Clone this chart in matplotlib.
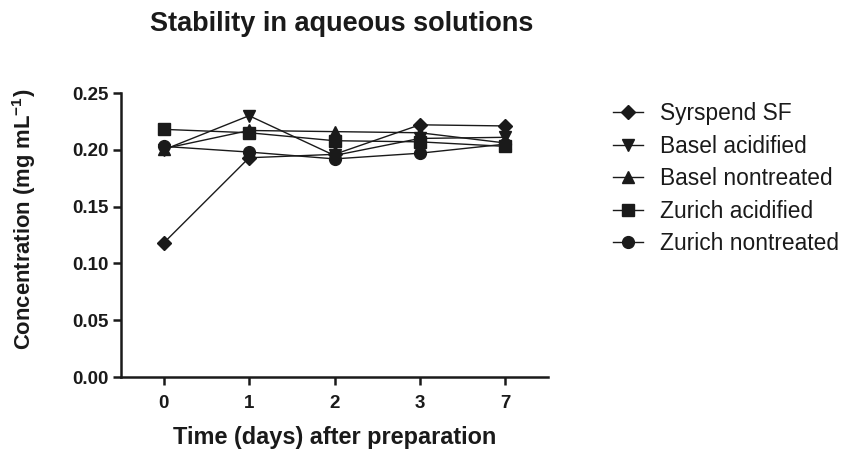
import matplotlib
matplotlib.use("Agg")
import matplotlib.pyplot as plt
import numpy as np

plt.rcParams['font.family'] = ['Liberation Sans', 'DejaVu Sans']
plt.rcParams['mathtext.fontset'] = 'custom'
plt.rcParams['mathtext.rm'] = 'Liberation Sans'
plt.rcParams['mathtext.bf'] = 'Liberation Sans:bold'

days = ["0", "1", "2", "3", "7"]
syrspend = [0.118, 0.193, 0.196, 0.222, 0.221]
basel_acid = [0.200, 0.230, 0.195, 0.210, 0.211]
basel_non = [0.201, 0.217, 0.216, 0.215, 0.206]
zurich_acid = [0.218, 0.215, 0.208, 0.207, 0.203]
zurich_non = [0.203, 0.198, 0.192, 0.197, 0.205]

series = [
    ("Syrspend SF", syrspend, "D", 7),
    ("Basel acidified", basel_acid, "v", 8.5),
    ("Basel nontreated", basel_non, "^", 8.5),
    ("Zurich acidified", zurich_acid, "s", 8),
    ("Zurich nontreated", zurich_non, "o", 8.5),
]

fig = plt.figure(figsize=(8.43, 4.49), dpi=100)
ax = fig.add_axes([121/843, 1-377/449, (548-121)/843, (377-93)/449])
x = np.arange(len(days))
for name, vals, m, ms in series:
    ax.plot(x, vals, color="#1a1a1a", lw=1.0, marker=m, markersize=ms, label=name)

ax.set_xlim(-0.5, 4.5)
ax.set_ylim(0, 0.25)
ax.set_xticks(x)
ax.set_xticklabels(days)
ax.set_yticks([0, 0.05, 0.10, 0.15, 0.20, 0.25])
ax.set_yticklabels(["0.00", "0.05", "0.10", "0.15", "0.20", "0.25"])
for s in ["top", "right"]:
    ax.spines[s].set_visible(False)
for s in ["left", "bottom"]:
    ax.spines[s].set_linewidth(1.8)
    ax.spines[s].set_color("#1a1a1a")
ax.tick_params(direction="out", length=6, width=1.8, labelsize=13.5, pad=3, colors="#1a1a1a")
ax.tick_params(axis="x", pad=7)
for lab in ax.get_xticklabels() + ax.get_yticklabels():
    lab.set_fontweight("bold")
ax.set_xlabel("Time (days) after preparation", fontsize=16.9, fontweight="bold", labelpad=10, color="#1a1a1a")
ax.set_ylabel("Concentration (mg mL$^{\\mathbf{-1}}$)", fontsize=15.8, fontweight="bold", color="#1a1a1a")
ax.yaxis.set_label_coords((38-121)/427, (377-219)/284)
fig.text(342/843, 1-31/449, "Stability in aqueous solutions", ha="center", va="baseline",
         fontsize=19.5, fontweight="bold", color="#1a1a1a")
leg = ax.legend(loc="upper left", bbox_to_anchor=(613/843, 1-102/449), bbox_transform=fig.transFigure,
                frameon=False, borderaxespad=0, borderpad=0,
                fontsize=16.4, handlelength=1.3, handletextpad=0.75, labelspacing=0.42)
for t in leg.get_texts():
    t.set_color("#1a1a1a")
fig.savefig("out.png", dpi=100)
